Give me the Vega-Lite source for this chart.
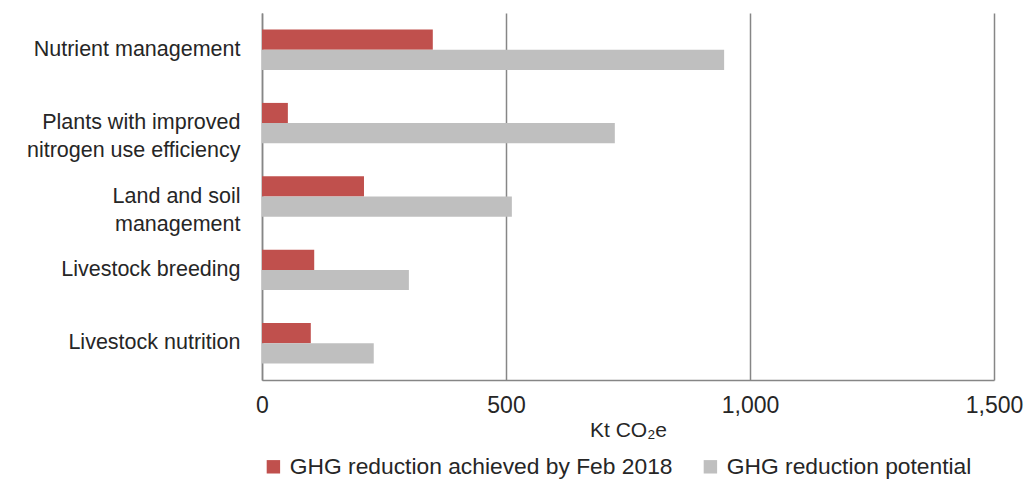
{
  "$schema": "https://vega.github.io/schema/vega-lite/v6.json",
  "width": 732,
  "height": 367,
  "autosize": {"type": "none"},
  "padding": {"left": 262, "top": 13, "right": 30, "bottom": 99},
  "background": "white",
  "config": {"view": {"stroke": null}, "font": "Liberation Sans"},
  "data": {
    "values": [
      {"category": "Nutrient management", "series": "GHG reduction achieved by Feb 2018", "value": 350},
      {"category": "Nutrient management", "series": "GHG reduction potential", "value": 947},
      {"category": "Plants with improved|nitrogen use efficiency", "series": "GHG reduction achieved by Feb 2018", "value": 53},
      {"category": "Plants with improved|nitrogen use efficiency", "series": "GHG reduction potential", "value": 723},
      {"category": "Land and soil|management", "series": "GHG reduction achieved by Feb 2018", "value": 209},
      {"category": "Land and soil|management", "series": "GHG reduction potential", "value": 512},
      {"category": "Livestock breeding", "series": "GHG reduction achieved by Feb 2018", "value": 107},
      {"category": "Livestock breeding", "series": "GHG reduction potential", "value": 301},
      {"category": "Livestock nutrition", "series": "GHG reduction achieved by Feb 2018", "value": 100},
      {"category": "Livestock nutrition", "series": "GHG reduction potential", "value": 229}
    ]
  },
  "mark": {"type": "bar"},
  "encoding": {
    "y": {
      "field": "category",
      "type": "nominal",
      "sort": ["Nutrient management", "Plants with improved|nitrogen use efficiency", "Land and soil|management", "Livestock breeding", "Livestock nutrition"],
      "scale": {"paddingInner": 0.45, "paddingOuter": 0.225},
      "axis": {
        "title": null,
        "labelExpr": "split(datum.label, '|')",
        "labelFontSize": 21.5,
        "labelColor": "#262626",
        "labelLineHeight": 28,
        "ticks": false,
        "domain": true,
        "domainColor": "#868686",
        "domainWidth": 1.5,
        "labelPadding": 22,
        "labelLimit": 400
      }
    },
    "yOffset": {
      "field": "series",
      "sort": ["GHG reduction achieved by Feb 2018", "GHG reduction potential"]
    },
    "x": {
      "field": "value",
      "type": "quantitative",
      "scale": {"domain": [0, 1500]},
      "axis": {
        "values": [0, 500, 1000, 1500],
        "format": ",.0f",
        "grid": true,
        "gridColor": "#868686",
        "gridWidth": 1.5,
        "ticks": false,
        "domainColor": "#868686",
        "domainWidth": 1.5,
        "title": "Kt CO₂e",
        "titleFontSize": 21,
        "titleFontWeight": "normal",
        "titleColor": "#262626",
        "labelFontSize": 23,
        "labelColor": "#262626",
        "labelPadding": 14,
        "labelFlush": false,
        "labelOverlap": false,
        "titlePadding": 2
      }
    },
    "color": {
      "field": "series",
      "type": "nominal",
      "scale": {"domain": ["GHG reduction achieved by Feb 2018", "GHG reduction potential"], "range": ["#C0504D", "#BFBFBF"]},
      "legend": {
        "orient": "none",
        "legendX": 0,
        "legendY": 442,
        "direction": "horizontal",
        "title": null,
        "symbolType": "square",
        "symbolSize": 180,
        "symbolStrokeWidth": 0,
        "labelFontSize": 22.8,
        "labelColor": "#262626",
        "labelOffset": 5,
        "columnPadding": 26,
        "labelLimit": 500
      }
    }
  }
}
